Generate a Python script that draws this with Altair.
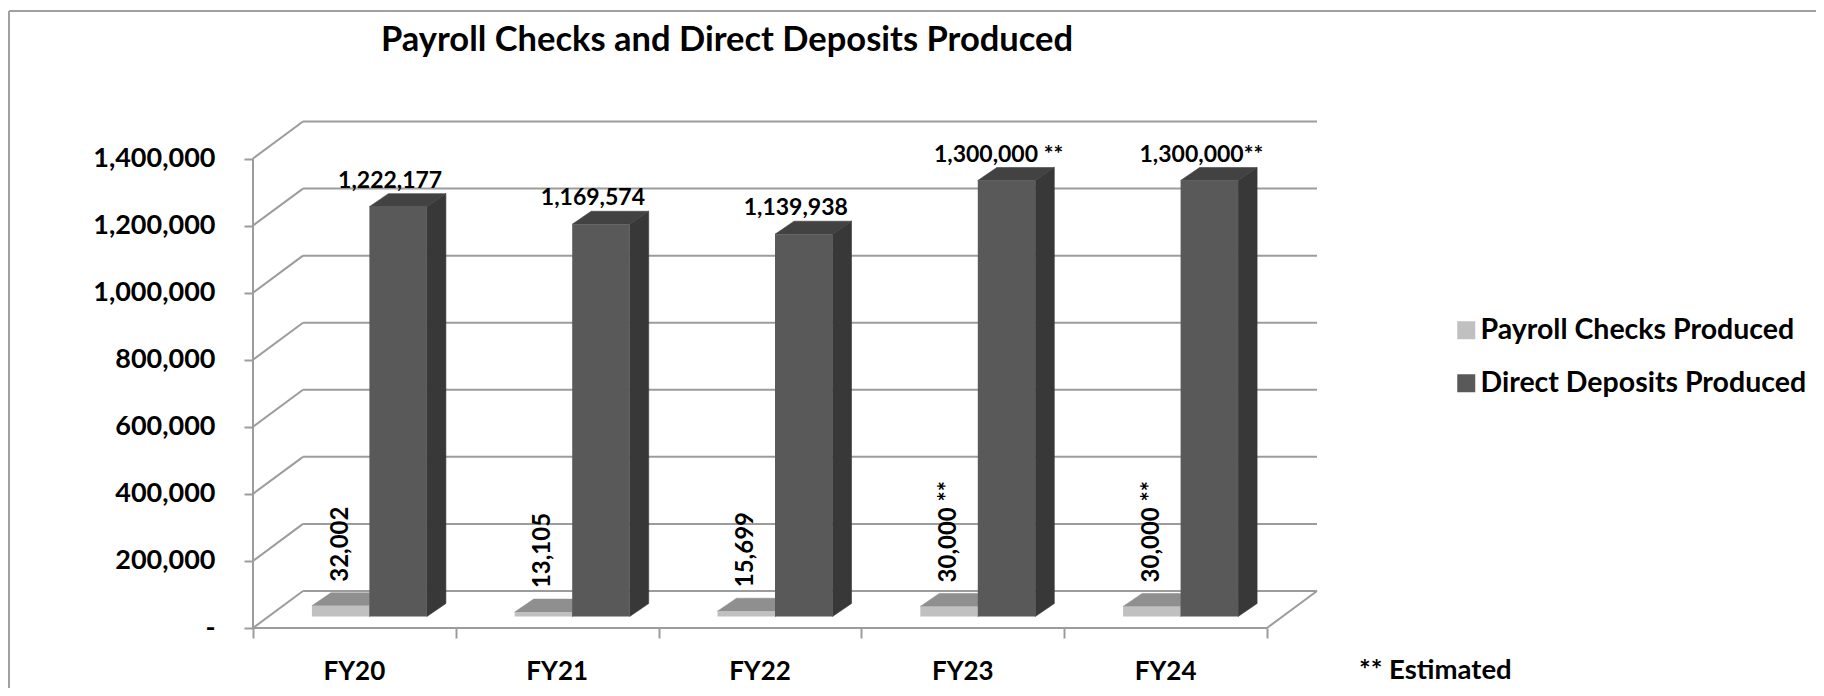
import altair as alt
import pandas as pd

# ---------------- data ----------------
categories = ["FY20", "FY21", "FY22", "FY23", "FY24"]
payroll_checks = [32002, 13105, 15699, 30000, 30000]
direct_deposits = [1222177, 1169574, 1139938, 1300000, 1300000]
payroll_labels = ["32,002", "13,105", "15,699", "30,000 **", "30,000 **"]
deposit_labels = ["1,222,177", "1,169,574", "1,139,938", "1,300,000 **", "1,300,000**"]
series_names = ["Payroll Checks Produced", "Direct Deposits Produced"]
y_ticks = [0, 200000, 400000, 600000, 800000, 1000000, 1200000, 1400000]
title_text = "Payroll Checks and Direct Deposits Produced"
footnote_text = "** Estimated"

# ---------------- style / geometry ----------------
FONT = "Lato"
W, H = 1072, 520
PX_U = 202.8                 # px per category
PX_V = 469.5 / 1400000       # px per value unit
XMAX = W / PX_U
YMAX = H / PX_V


def pu(p):
    return p / PX_U


def pv(p):
    return p / PX_V


WALL_DX, WALL_DY = pu(50), pv(37)
BAR_W = pu(57.5)
FRONT_DX, FRONT_DY = pu(15), pv(11.5)
DEPTH_DX, DEPTH_DY = pu(19), pv(13)

front_col = {series_names[0]: "#c0c0c0", series_names[1]: "#595959"}
top_col = {series_names[0]: "#8f8f8f", series_names[1]: "#424242"}
side_col = {series_names[0]: "#7a7a7a", series_names[1]: "#383838"}
GRID = "#9c9c9c"

# ---------------- frame lines (walls, floor, gridlines) ----------------
n = len(categories)
rules = []
for v in y_ticks:
    rules.append(dict(x=WALL_DX, x2=n + WALL_DX, y=v + WALL_DY, y2=v + WALL_DY))
    rules.append(dict(x=0, x2=WALL_DX, y=v, y2=v + WALL_DY))
rules.append(dict(x=0, x2=n, y=0, y2=0))
rules.append(dict(x=n, x2=n + WALL_DX, y=0, y2=WALL_DY))
rules.append(dict(x=0, x2=0, y=0, y2=y_ticks[-1]))
rules_df = pd.DataFrame(rules)

# ---------------- bars ----------------
fronts, sides, tops, dd_lab, pc_lab, cat_lab = [], [], [], [], [], []
for i, cat in enumerate(categories):
    cat_lab.append(dict(x=i + 0.5, y=0, label=cat))
    for s, (name, vals) in enumerate(zip(series_names, [payroll_checks, direct_deposits])):
        v = vals[i]
        L = i + 0.5 - BAR_W + s * BAR_W + FRONT_DX
        R = L + BAR_W
        b = FRONT_DY
        t = v + FRONT_DY
        bid = f"{cat}-{s}"
        fronts.append(dict(x=L, x2=R, y=b, y2=t, series=name))
        sides.append(dict(id=bid, x=R, lo=b, hi=t, fill=side_col[name], o=s))
        sides.append(dict(id=bid, x=R + DEPTH_DX, lo=b + DEPTH_DY, hi=t + DEPTH_DY, fill=side_col[name], o=s))
        tops.append(dict(id=bid, x=L, lo=t, hi=t, fill=top_col[name], o=s))
        tops.append(dict(id=bid, x=L + DEPTH_DX, lo=t, hi=t + DEPTH_DY, fill=top_col[name], o=s))
        tops.append(dict(id=bid, x=R, lo=t, hi=t + DEPTH_DY, fill=top_col[name], o=s))
        tops.append(dict(id=bid, x=R + DEPTH_DX, lo=t + DEPTH_DY, hi=t + DEPTH_DY, fill=top_col[name], o=s))
        if s == 1:
            dd_lab.append(dict(x=(L + R) / 2 - pu(8), y=t + DEPTH_DY, label=deposit_labels[i]))
        else:
            pc_lab.append(dict(x=(L + R) / 2, y=t + DEPTH_DY + pv(11), label=payroll_labels[i]))

fronts_df = pd.DataFrame(fronts)
sides_df = pd.DataFrame(sides)
tops_df = pd.DataFrame(tops)
dd_df = pd.DataFrame(dd_lab)
pc_df = pd.DataFrame(pc_lab)
cat_df = pd.DataFrame(cat_lab)

# ---------------- scales / axes ----------------
XS = alt.Scale(domain=[0, XMAX], nice=False, zero=False)
YS = alt.Scale(domain=[0, YMAX], nice=False, zero=False)
XAX = alt.Axis(values=list(range(n + 1)), labels=False, title=None, domain=False, grid=False,
               tickSize=10, tickColor=GRID, tickWidth=2)
YAX = alt.Axis(values=y_ticks, title=None, domain=False, grid=False, tickSize=9, tickColor=GRID,
               tickWidth=2, labelFont=FONT, labelFontSize=27, labelFontWeight="bold",
               labelColor="black", labelPadding=29,
               labelExpr="datum.value == 0 ? '-\u00a0\u00a0\u00a0' : format(datum.value, ',')")


def X(f):
    return alt.X(f, type="quantitative", scale=XS, axis=XAX)


def Y(f):
    return alt.Y(f, type="quantitative", scale=YS, axis=YAX)


grid_layer = alt.Chart(rules_df).mark_rule(color=GRID, strokeWidth=2).encode(
    x=X("x"), x2="x2", y=Y("y"), y2="y2")

side_layer = alt.Chart(sides_df).mark_area(strokeWidth=0.6).encode(
    x=X("x"), y=Y("lo"), y2="hi", detail="id:N",
    color=alt.Color("fill:N", scale=None), stroke=alt.Stroke("fill:N", scale=None))

top_layer = alt.Chart(tops_df).mark_area(strokeWidth=0.6).encode(
    x=X("x"), y=Y("lo"), y2="hi", detail="id:N",
    color=alt.Color("fill:N", scale=None), stroke=alt.Stroke("fill:N", scale=None))

front_layer = alt.Chart(fronts_df).mark_rect().encode(
    x=X("x"), x2="x2", y=Y("y"), y2="y2",
    fill=alt.Fill("series:N", scale=alt.Scale(domain=series_names,
                                              range=[front_col[s] for s in series_names]),
                  legend=alt.Legend(orient="none", legendX=1199, legendY=208, title=None,
                                    symbolType="square", symbolSize=324, symbolStrokeWidth=0,
                                    labelFont=FONT, labelFontSize=28.5, labelFontWeight="bold",
                                    labelColor="black", labelOffset=0, rowPadding=24,
                                    labelLimit=600)))

dd_text = alt.Chart(dd_df).mark_text(font=FONT, fontSize=23, fontWeight="bold", color="black",
                                     baseline="alphabetic", dy=-6).encode(
    x=X("x"), y=Y("y"), text="label:N")

pc_text = alt.Chart(pc_df).mark_text(font=FONT, fontSize=24, fontWeight="bold", color="black",
                                     angle=270, align="left", baseline="middle").encode(
    x=X("x"), y=Y("y"), text="label:N")

cat_text = alt.Chart(cat_df).mark_text(font=FONT, fontSize=26, fontWeight="bold", color="black",
                                       baseline="middle", dy=44).encode(
    x=X("x"), y=Y("y"), text="label:N")

title_layer = alt.Chart(pd.DataFrame({"t": [title_text]})).mark_text(
    font=FONT, fontSize=34.5, fontWeight="bold", color="black", align="center", baseline="middle"
).encode(x=alt.value(474), y=alt.value(-67), text="t:N")

foot_layer = alt.Chart(pd.DataFrame({"t": [footnote_text]})).mark_text(
    font=FONT, fontSize=27.5, fontWeight="bold", color="black", align="left", baseline="middle"
).encode(x=alt.value(1106), y=alt.value(563), text="t:N")

border_top = alt.Chart(pd.DataFrame({"k": [0]})).mark_rule(color="#a0a0a0", strokeWidth=2).encode(
    x=alt.value(-244), x2=alt.value(1563), y=alt.value(-97), y2=alt.value(-97))
border_left = alt.Chart(pd.DataFrame({"k": [0]})).mark_rule(color="#a0a0a0", strokeWidth=2).encode(
    x=alt.value(-244), x2=alt.value(-244), y=alt.value(-97), y2=alt.value(580))

chart = alt.layer(
    border_top, border_left, grid_layer, side_layer, top_layer, front_layer,
    dd_text, pc_text, cat_text, title_layer, foot_layer
).properties(
    width=W, height=H,
    background="white",
    padding={"left": 245, "top": 100, "right": 491, "bottom": 60},
    autosize=alt.AutoSizeParams(type="none"),
).configure_view(stroke=None, strokeWidth=0)

chart.save("out.html", embed_options={"renderer": "svg", "actions": False})
